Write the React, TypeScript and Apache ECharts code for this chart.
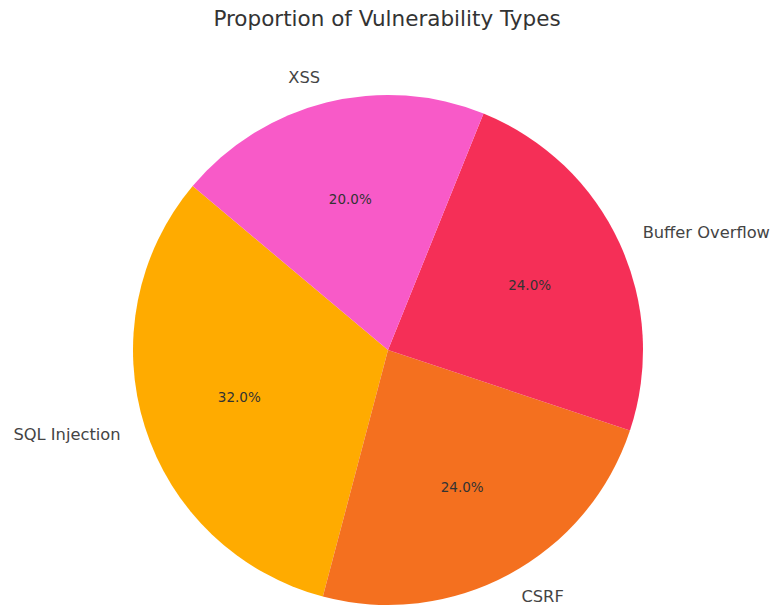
import React, { useEffect, useRef } from "react";
import * as echarts from "echarts";

// Slice data, in drawing order (counter-clockwise from 140°)
const categories = ["SQL Injection", "CSRF", "Buffer Overflow", "XSS"];
const shares = [32, 24, 24, 20];
const sliceColors = ["#FFAB00", "#F4701F", "#F52F57", "#F85AC8"];

const TITLE = "Proportion of Vulnerability Types";
const FONT = "DejaVu Sans";

export default function App() {
  const ref = useRef<HTMLDivElement>(null);

  useEffect(() => {
    if (!ref.current) return;
    const chart = echarts.init(ref.current, undefined, { renderer: "svg" });

    const R = 255;
    const center = ["388", "350"];
    const data = categories.map((name, i) => ({
      name,
      value: shares[i],
      itemStyle: { color: sliceColors[i] },
    }));

    chart.setOption({
      animation: false,
      backgroundColor: "#ffffff",
      title: {
        text: TITLE,
        left: "center",
        top: 2,
        textStyle: {
          fontFamily: FONT,
          fontSize: 21.5,
          fontWeight: "normal",
          color: "#333333",
        },
      },
      series: [
        {
          // visible wedges with category labels outside
          type: "pie",
          center,
          radius: [0, R],
          startAngle: 140,
          clockwise: false,
          avoidLabelOverlap: false,
          silent: true,
          itemStyle: { borderWidth: 0 },
          label: {
            show: true,
            position: "outside",
            formatter: "{b}",
            fontFamily: FONT,
            fontSize: 16.3,
            color: "#444444",
            padding: [4, 0, 0, 0],
            distanceToLabelLine: 0,
            bleedMargin: 0,
            overflow: "none",
          },
          labelLine: { show: false, length: R * 0.1, length2: 0 },
          data,
        },
        {
          // transparent ring used only to place percentage labels at 0.6 R
          type: "pie",
          center,
          radius: [0, R * 1.2],
          startAngle: 140,
          clockwise: false,
          silent: true,
          itemStyle: { color: "rgba(0,0,0,0)", borderWidth: 0 },
          label: {
            show: true,
            position: "inside",
            formatter: (p: any) => `${p.percent.toFixed(1)}%`,
            fontFamily: FONT,
            fontSize: 13.5,
            color: "#333333",
          },
          labelLine: { show: false },
          data: categories.map((name, i) => ({ name, value: shares[i] })),
        },
      ],
    });

    return () => chart.dispose();
  }, []);

  return (
    <div
      ref={ref}
      style={{ position: "absolute", left: 0, top: 0, width: 774, height: 611 }}
    />
  );
}
